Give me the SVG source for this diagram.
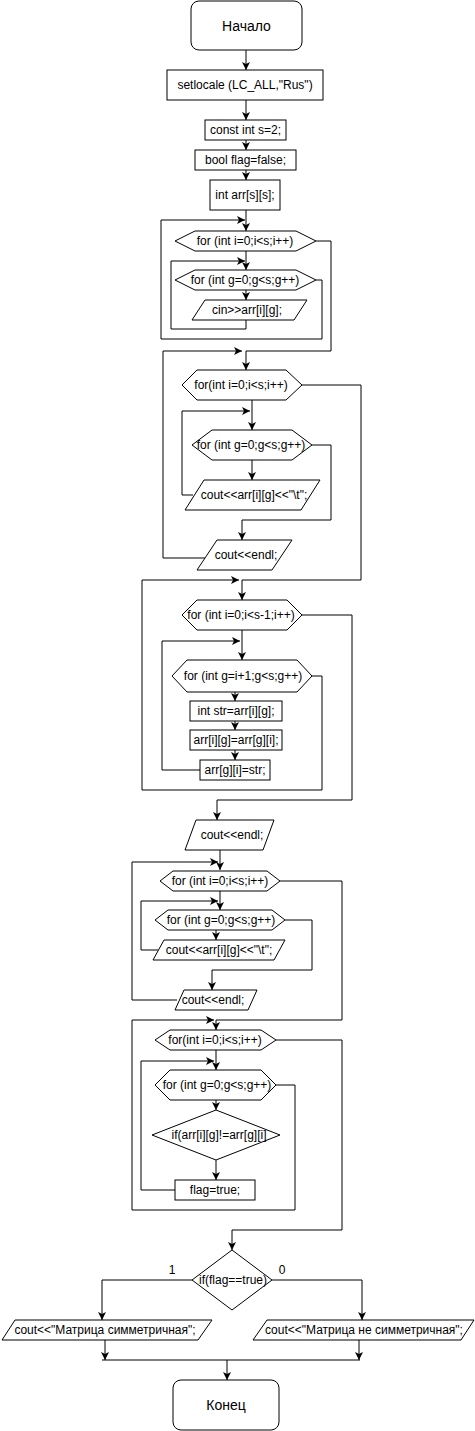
<svg xmlns="http://www.w3.org/2000/svg" width="475" height="1431" viewBox="0 0 475 1431">
<style>
.s{fill:#fff;stroke:#000;stroke-width:1}
.e{fill:none;stroke:#000;stroke-width:1}
.ea{fill:none;stroke:#000;stroke-width:1;marker-end:url(#arr)}
text{font-family:"Liberation Sans",Arial,sans-serif;font-size:12px;fill:#000;text-anchor:middle;dominant-baseline:central}
.big{font-size:14px}
</style>
<defs>
<marker id="arr" viewBox="-9 -5 10 10" refX="0" refY="0" markerWidth="10" markerHeight="10" markerUnits="userSpaceOnUse" orient="auto"><path d="M0,0 L-8,-4 L-6,0 L-8,4 Z" fill="#000"/></marker>
</defs>
<rect width="475" height="1431" fill="#fff"/>
<g id="connectors">
<path class="ea" d="M246,50 V70"/>
<path class="ea" d="M246,100 V120"/>
<path class="ea" d="M246,140 V150"/>
<path class="ea" d="M246,170 V180"/>
<path class="ea" d="M246,210 V231"/>
<path class="ea" d="M246,251 V270"/>
<path class="ea" d="M246,290 V300"/>
<path class="ea" d="M246,320 V329 H171 V261 H245"/>
<path class="ea" d="M316,280 H322 V339 H161 V220 H245"/>
<path class="ea" d="M316,241 H331 V351 H246 V370"/>
<path class="ea" d="M252,400 V430"/>
<path class="ea" d="M193,495 H182 V411 H250"/>
<path class="ea" d="M252,460 V480"/>
<path class="ea" d="M312,445 H331 V520 H242 V540"/>
<path class="ea" d="M205,558 H163 V351 H242"/>
<path class="ea" d="M302,385 H361 V580 H242 V600"/>
<path class="ea" d="M242,630 V660"/>
<path class="ea" d="M200,770 H162 V641 H240"/>
<path class="ea" d="M235,692 V701"/>
<path class="ea" d="M235,721 V730"/>
<path class="ea" d="M235,750 V760"/>
<path class="ea" d="M312,676 H322 V790 H142 V580 H239"/>
<path class="ea" d="M302,615 H352 V800 H217 V820"/>
<path class="ea" d="M220,850 V870"/>
<path class="ea" d="M177,1000 H132 V862 H218"/>
<path class="ea" d="M220,891 V910"/>
<path class="ea" d="M158,950 H141 V901 H218"/>
<path class="ea" d="M216,930 V940"/>
<path class="ea" d="M285,920 H312 V970 H212 V990"/>
<path class="ea" d="M280,881 H342 V1020 H216 V1030"/>
<path class="ea" d="M216,1050 V1070"/>
<path class="ea" d="M175,1190 H141 V1061 H214"/>
<path class="ea" d="M216,1100 V1110"/>
<path class="ea" d="M216,1160 V1180"/>
<path class="ea" d="M276,1085 H295 V1210 H132 V1020 H214"/>
<path class="ea" d="M276,1040 H342 V1230 H232 V1250"/>
<path class="ea" d="M192,1280 H102 V1320"/>
<path class="ea" d="M272,1280 H362 V1320"/>
<path class="ea" d="M105,1340 V1360"/>
<path class="ea" d="M359,1340 V1360"/>
<path class="e" d="M102,1360 H360"/>
<path class="ea" d="M227,1360 V1380"/>
<text x="172" y="1270">1</text>
<text x="282" y="1270">0</text>
</g>
<g id="start"><rect class="s" x="191" y="1" width="111" height="49" rx="8"/><text class="big" x="246.5" y="25.5">Начало</text></g>
<g id="setlocale"><rect class="s" x="167" y="70" width="156" height="30"/><text x="245" y="85">setlocale (LC_ALL,"Rus")</text></g>
<g id="const"><rect class="s" x="205" y="120" width="81" height="20"/><text x="245.5" y="130">const int s=2;</text></g>
<g id="bool"><rect class="s" x="195" y="150" width="101" height="20"/><text x="245.5" y="160">bool flag=false;</text></g>
<g id="arrdecl"><rect class="s" x="210" y="180" width="70" height="30"/><text x="245" y="195">int arr[s][s];</text></g>
<g id="loop1i"><polygon class="s" points="175,241 195,231 296,231 316,241 296,251 195,251"/><text x="245" y="241">for (int i=0;i&lt;s;i++)</text></g>
<g id="loop1g"><polygon class="s" points="175,280 195,270 296,270 316,280 296,290 195,290"/><text x="245" y="280">for (int g=0;g&lt;s;g++)</text></g>
<g id="cin"><polygon class="s" points="205,300 307,300 294,320 192,320"/><text x="247" y="310">cin&gt;&gt;arr[i][g];</text></g>
<g id="loop2i"><polygon class="s" points="182,385 197,370 286,370 302,385 286,400 197,400"/><text x="241" y="385">for(int i=0;i&lt;s;i++)</text></g>
<g id="loop2g"><polygon class="s" points="192,445 212,430 292,430 312,445 292,460 212,460"/><text x="251" y="445">for (int g=0;g&lt;s;g++)</text></g>
<g id="cout2"><polygon class="s" points="204,480 320,480 301,510 185,510"/><text x="254" y="495">cout&lt;&lt;arr[i][g]&lt;&lt;"\t";</text></g>
<g id="endl2"><polygon class="s" points="217,540 292,540 272,570 197,570"/><text x="246" y="555">cout&lt;&lt;endl;</text></g>
<g id="loop3i"><polygon class="s" points="182,615 197,600 287,600 302,615 287,630 197,630"/><text x="241" y="615">for (int i=0;i&lt;s-1;i++)</text></g>
<g id="loop3g"><polygon class="s" points="172,676 187,660 297,660 312,676 297,692 187,692"/><text x="243" y="676">for (int g=i+1;g&lt;s;g++)</text></g>
<g id="swap1"><rect class="s" x="190" y="701" width="92" height="20"/><text x="236" y="711">int str=arr[i][g];</text></g>
<g id="swap2"><rect class="s" x="190" y="730" width="92" height="20"/><text x="236" y="740">arr[i][g]=arr[g][i];</text></g>
<g id="swap3"><rect class="s" x="200" y="760" width="70" height="20"/><text x="235" y="770">arr[g][i]=str;</text></g>
<g id="endl3"><polygon class="s" points="196,820 274,820 263,850 185,850"/><text x="232" y="835">cout&lt;&lt;endl;</text></g>
<g id="loop4i"><polygon class="s" points="160,881 173,871 267,871 280,881 267,891 173,891"/><text x="220" y="881">for (int i=0;i&lt;s;i++)</text></g>
<g id="loop4g"><polygon class="s" points="155,920 168,910 272,910 285,920 272,930 168,930"/><text x="221" y="920">for (int g=0;g&lt;s;g++)</text></g>
<g id="cout4"><polygon class="s" points="164,940 285,940 274,960 153,960"/><text x="219" y="950">cout&lt;&lt;arr[i][g]&lt;&lt;"\t";</text></g>
<g id="endl4"><polygon class="s" points="184,990 257,990 248,1010 175,1010"/><text x="213" y="1000">cout&lt;&lt;endl;</text></g>
<g id="loop5i"><polygon class="s" points="155,1040 170,1030 261,1030 276,1040 261,1050 170,1050"/><text x="215" y="1040">for(int i=0;i&lt;s;i++)</text></g>
<g id="loop5g"><polygon class="s" points="155,1085 170,1070 261,1070 276,1085 261,1100 170,1100"/><text x="217" y="1085">for (int g=0;g&lt;s;g++)</text></g>
<g id="ifsym"><polygon class="s" points="216,1110 280,1135 216,1160 152,1135"/><text x="219" y="1135">if(arr[i][g]!=arr[g][i]</text></g>
<g id="flagtrue"><rect class="s" x="175" y="1180" width="80" height="20"/><text x="215" y="1190">flag=true;</text></g>
<g id="ifflag"><polygon class="s" points="232,1250 272,1280 232,1310 192,1280"/><text x="233" y="1280">if(flag==true)</text></g>
<g id="outsym"><polygon class="s" points="15,1320 212,1320 198,1340 2,1340"/><text x="105" y="1330">cout&lt;&lt;"Матрица симметричная";</text></g>
<g id="outnonsym"><polygon class="s" points="267,1320 474,1320 461,1340 253,1340"/><text x="364" y="1330">cout&lt;&lt;"Матрица не симметричная";</text></g>
<g id="end"><rect class="s" x="173" y="1380" width="106" height="50" rx="8"/><text class="big" x="226" y="1405">Конец</text></g>
</svg>
